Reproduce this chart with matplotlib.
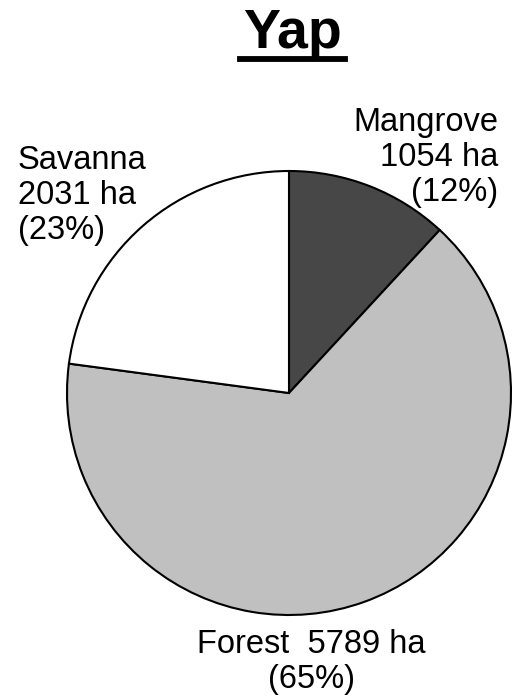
import numpy as np
import matplotlib
matplotlib.use("Agg")
import matplotlib.pyplot as plt
from matplotlib.lines import Line2D

# land cover areas, hectares
klases = ["Mangrove", "Forest", "Savanna"]
plotai = [1054, 5789, 2031]
procentai = [12, 65, 23]
spalvos = ["#474747", "#c0c0c0", "#ffffff"]

plt.rcParams['font.family'] = ['Liberation Sans', 'DejaVu Sans']

fig = plt.figure(figsize=(5.18, 7.0), dpi=100)
W, H = 518.0, 700.0
cx, cy, r = 289.0, 393.0, 222.0
ax = fig.add_axes([(cx - r) / W, (H - cy - r) / H, 2 * r / W, 2 * r / H])

ax.pie(plotai, colors=spalvos, startangle=90, counterclock=False, radius=1.0,
       wedgeprops=dict(edgecolor="black", linewidth=1.5))
ax.set_xlim(-1, 1)
ax.set_ylim(-1, 1)
ax.set_aspect("equal")
ax.axis("off")

def px(x, y):  # pikseliai -> duomenu koordinates
    return (x - cx) / r, (cy - y) / r

fs = 23.5
ls = 1.17
x, y = px(498, 107)
ax.text(x, y, f"{klases[0]}\n{plotai[0]} ha\n({procentai[0]}%)", ha="right", va="top",
        multialignment="right", fontsize=fs, linespacing=ls)
x, y = px(18, 145)
ax.text(x, y, f"{klases[2]}\n{plotai[2]} ha\n({procentai[2]}%)", ha="left", va="top",
        multialignment="left", fontsize=fs, linespacing=ls)
x, y = px(311, 629)
ax.text(x, y, f"{klases[1]}  {plotai[1]} ha\n({procentai[1]}%)", ha="center", va="top",
        multialignment="center", fontsize=fs, linespacing=ls)

fig.text(292 / W, 1 - 8 / H, "Yap", ha="center", va="top", fontsize=40, fontweight="bold")
fig.add_artist(Line2D([240 / W, 345 / W], [1 - 59 / H, 1 - 59 / H], color="black",
                      linewidth=4.2, transform=fig.transFigure))

fig.savefig("out.png", dpi=100)
